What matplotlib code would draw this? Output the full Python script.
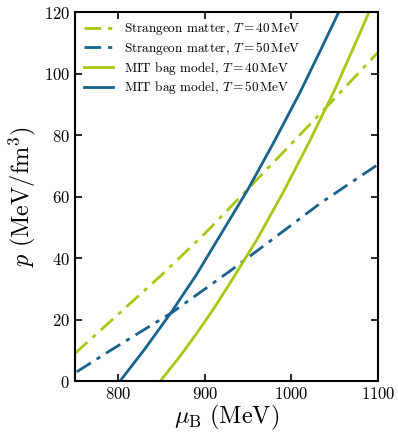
import numpy as np
import matplotlib
matplotlib.use("Agg")
import matplotlib.pyplot as plt

plt.rcParams['font.family'] = 'serif'
plt.rcParams['font.serif'] = ['cmr10']
plt.rcParams['mathtext.fontset'] = 'cm'
plt.rcParams['axes.formatter.use_mathtext'] = True

green = '#a6c814'
blue = '#19628c'

# Strangeon matter, T = 40 MeV
sg40_mu = [750, 790, 850, 900, 960, 1045, 1100]
sg40_p = [9.0, 19.2, 34.5, 48.0, 65.5, 90.5, 107.0]
# Strangeon matter, T = 50 MeV
sg50_mu = [752, 790, 862, 930, 968, 1034, 1100]
sg50_p = [3.0, 9.8, 22.3, 36.0, 44.0, 58.0, 70.5]
# MIT bag model, T = 40 MeV
mit40_mu = [848.5, 870, 890, 910, 930, 960, 990, 1020, 1050, 1080, 1092]
mit40_p = [0.0, 7.6, 15.3, 23.5, 32.3, 46.0, 61.2, 77.5, 94.8, 113.8, 121.7]
# MIT bag model, T = 50 MeV
mit50_mu = [802, 830, 860, 890, 920, 950, 980, 1010, 1035, 1057]
mit50_p = [0.0, 10.2, 21.9, 34.5, 48.5, 62.5, 77.9, 94.0, 108.5, 121.5]

labels = [r'Strangeon matter, $T = 40\,\mathrm{MeV}$',
          r'Strangeon matter, $T = 50\,\mathrm{MeV}$',
          r'MIT bag model, $T = 40\,\mathrm{MeV}$',
          r'MIT bag model, $T = 50\,\mathrm{MeV}$']

fig = plt.figure(figsize=(3.98, 4.36), dpi=100)
ax = fig.add_axes([0.1884, 0.126, 0.7616, 0.846])

dash = (0, (6, 2.5, 1.5, 2.5))
ax.plot(sg40_mu, sg40_p, color=green, lw=2, linestyle=dash, label=labels[0])
ax.plot(sg50_mu, sg50_p, color=blue, lw=2, linestyle=dash, label=labels[1])
ax.plot(mit40_mu, mit40_p, color=green, lw=2, label=labels[2])
ax.plot(mit50_mu, mit50_p, color=blue, lw=2, label=labels[3])

ax.set_xlim(750, 1100)
ax.set_ylim(0, 120)
ax.set_xticks([800, 900, 1000, 1100])
ax.set_yticks([0, 20, 40, 60, 80, 100, 120])
ax.tick_params(direction='in', top=True, right=True, labelsize=12, length=5, width=1.2)
for s in ax.spines.values():
    s.set_linewidth(1.5)
ax.set_xlabel(r'$\mu_{\mathrm{B}}\ (\mathrm{MeV})$', fontsize=17.5, labelpad=1)
ax.set_ylabel(r'$p\ (\mathrm{MeV/fm}^3)$', fontsize=17.5, labelpad=4)
ax.legend(loc='upper left', frameon=False, fontsize=9.5, handlelength=2.2,
          borderaxespad=0.3, labelspacing=0.2)

fig.savefig('out.png', dpi=100)
